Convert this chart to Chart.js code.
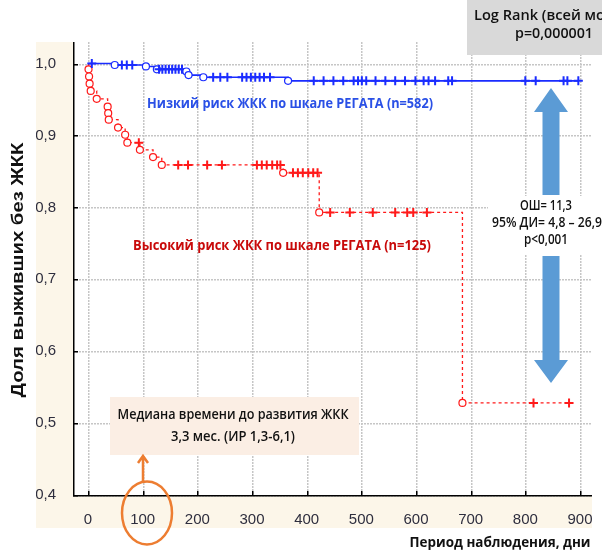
<!DOCTYPE html>
<html>
<head>
<meta charset="utf-8">
<script src="https://cdn.jsdelivr.net/npm/chart.js@4/dist/chart.umd.min.js"></script>
<style>
  body { margin: 0; background: #fff; }
</style>
</head>
<body>
<canvas id="km" width="602" height="550"></canvas>
<script>
// low risk group (n=582): day, survival, mark ('o' = event, '+' = censored)
const lowRiskDays = [0, 7, 49, 62, 71, 81, 106, 126,
  130, 136, 142, 148, 154, 160, 166, 172,
  180, 184, 211,
  229, 242, 255, 282, 290, 298, 306, 314, 322, 333,
  366,
  413, 431, 449, 467, 486, 494, 501, 509, 526, 544, 562, 580, 599, 614, 623, 635, 659, 666,
  800, 819, 870, 877, 897];
const lowRiskSurv = [1, 1, 0.998, 0.998, 0.998, 0.998, 0.996, 0.992,
  0.992, 0.992, 0.992, 0.992, 0.992, 0.992, 0.992, 0.992,
  0.989, 0.984, 0.981,
  0.981, 0.981, 0.981, 0.981, 0.981, 0.981, 0.981, 0.981, 0.981, 0.981,
  0.976,
  0.976, 0.976, 0.976, 0.976, 0.976, 0.976, 0.976, 0.976, 0.976, 0.976, 0.976, 0.976, 0.976, 0.976, 0.976, 0.976, 0.976, 0.976,
  0.976, 0.976, 0.976, 0.976, 0.976];
const lowRiskMark = ["", "+", "o", "+", "+", "+", "o", "o",
  "+", "+", "+", "+", "+", "+", "+", "+",
  "o", "o", "o",
  "+", "+", "+", "+", "+", "+", "+", "+", "+", "+",
  "o",
  "+", "+", "+", "+", "+", "+", "+", "+", "+", "+", "+", "+", "+", "+", "+", "+", "+", "+",
  "+", "+", "+", "+", "+"];

// high risk group (n=125)
const highRiskDays = [0, 1, 2, 3, 5, 16, 36, 37, 38, 55, 68, 72, 93, 95, 119, 135,
  165, 183, 218, 245, 309, 318, 327, 337, 346, 352,
  357, 375, 384, 393, 403, 412, 420,
  423, 443, 479, 521, 562, 584, 595, 620,
  685, 815, 880];
const highRiskSurv = [1, 0.992, 0.982, 0.972, 0.962, 0.951, 0.940, 0.931, 0.922, 0.911, 0.901, 0.890, 0.890, 0.880, 0.870, 0.859,
  0.859, 0.859, 0.859, 0.859, 0.859, 0.859, 0.859, 0.859, 0.859, 0.859,
  0.848, 0.848, 0.848, 0.848, 0.848, 0.848, 0.848,
  0.793, 0.793, 0.793, 0.793, 0.793, 0.793, 0.793, 0.793,
  0.528, 0.528, 0.528];
const highRiskMark = ["", "o", "o", "o", "o", "o", "o", "o", "o", "o", "o", "o", "+", "o", "o", "o",
  "+", "+", "+", "+", "+", "+", "+", "+", "+", "+",
  "o", "+", "+", "+", "+", "+", "+",
  "o", "+", "+", "+", "+", "+", "+", "+",
  "o", "+", "+"];

const xTicks = [0, 100, 200, 300, 400, 500, 600, 700, 800, 900];
const yTicks = [0.4, 0.5, 0.6, 0.7, 0.8, 0.9, 1.0];
const X_MIN = -27.4, X_MAX = 922, Y_MIN = 0.4, Y_MAX = 1.03;

const narrow = '"Open Sans", "DejaVu Sans Condensed", sans-serif';

function kmDataset(days, surv, marks, color, dash) {
  return {
    data: days.map((d, i) => ({ x: d, y: surv[i] })),
    stepped: true,
    borderColor: color,
    borderWidth: dash ? 1.3 : 1.6,
    borderDash: dash || [],
    pointStyle: marks.map(m => m === "o" ? "circle" : "cross"),
    pointRadius: marks.map(m => m === "o" ? 3.5 : (m === "+" ? 4.5 : 0)),
    pointBorderWidth: marks.map(m => m === "o" ? 1.2 : 2),
    pointBorderColor: color,
    pointBackgroundColor: "#fff",
    fill: false
  };
}

// pixel of a value on an axis, falls back to chart area math
function xPix(chart, v) {
  const p = chart.scales.x.getPixelForValue(v);
  if (isFinite(p)) return p;
  const a = chart.chartArea;
  return a.left + (v - X_MIN) / (X_MAX - X_MIN) * (a.right - a.left);
}
function yPix(chart, v) {
  const p = chart.scales.y.getPixelForValue(v);
  if (isFinite(p)) return p;
  const a = chart.chartArea;
  return a.bottom - (v - Y_MIN) / (Y_MAX - Y_MIN) * (a.bottom - a.top);
}

// text, optionally squeezed to a given width
function txt(ctx, s, x, y, font, color, align, w) {
  ctx.save();
  ctx.font = font;
  ctx.fillStyle = color;
  ctx.textBaseline = "middle";
  ctx.textAlign = align;
  const m = ctx.measureText(s).width;
  ctx.translate(x, y);
  if (w) ctx.scale(w / m, 1);
  ctx.fillText(s, 0, 0);
  ctx.restore();
}

function blockArrow(ctx, cx, tipY, baseY, endY) {
  ctx.beginPath();
  ctx.moveTo(cx, tipY);
  ctx.lineTo(cx + 17, baseY);
  ctx.lineTo(cx + 8.5, baseY);
  ctx.lineTo(cx + 8.5, endY);
  ctx.lineTo(cx - 8.5, endY);
  ctx.lineTo(cx - 8.5, baseY);
  ctx.lineTo(cx - 17, baseY);
  ctx.closePath();
  ctx.fillStyle = "#5b9bd5";
  ctx.fill();
}

const decor = {
  id: "decor",
  beforeDraw(chart) {
    const ctx = chart.ctx, a = chart.chartArea;
    ctx.save();
    ctx.fillStyle = "#fff";
    ctx.fillRect(0, 0, chart.width, chart.height);
    ctx.fillStyle = "#fcf6e9";
    ctx.fillRect(36, a.top, a.right - 36, 528 - a.top);
    ctx.fillStyle = "#fff";
    ctx.fillRect(a.left, a.top, a.right - a.left, a.bottom - a.top);
    ctx.restore();
  },
  beforeDatasetsDraw(chart) {
    // dotted light grid
    const ctx = chart.ctx, a = chart.chartArea;
    ctx.save();
    ctx.fillStyle = "#c6c6c6";
    xTicks.forEach(v => {
      const px = Math.round(xPix(chart, v));
      for (let y = a.top; y < a.bottom; y += 3) ctx.fillRect(px, y, 1.5, 2);
    });
    yTicks.forEach(v => {
      const py = Math.round(yPix(chart, v));
      for (let x = a.left; x < a.right; x += 3) ctx.fillRect(x, py, 2, 1.5);
    });
    ctx.restore();
  },
  afterDraw(chart) {
    const ctx = chart.ctx, a = chart.chartArea;
    ctx.save();
    // axes and inner tick marks
    ctx.fillStyle = "#000";
    ctx.fillRect(Math.round(a.left), Math.round(a.top), 1.5, Math.round(a.bottom - a.top) + 1);
    ctx.fillRect(Math.round(a.left), Math.round(a.bottom), Math.round(a.right - a.left), 1.5);
    xTicks.forEach(v => {
      ctx.fillRect(Math.round(xPix(chart, v)), Math.round(a.bottom) - 4, 1.5, 4);
    });
    yTicks.forEach(v => {
      ctx.fillRect(Math.round(a.left), Math.round(yPix(chart, v)), 5, 1.5);
    });

    // group labels
    txt(ctx, "Низкий риск ЖКК по шкале РЕГАТА (n=582)", 290, 104, "bold 15px " + narrow, "#2a50e6", "center", 286);
    txt(ctx, "Высокий риск ЖКК по шкале РЕГАТА (n=125)", 282, 246, "bold 15px " + narrow, "#c80a0a", "center", 298);

    // odds ratio arrows and text
    blockArrow(ctx, 551, 88, 112, 195);
    blockArrow(ctx, 551, 383, 360, 256);
    ctx.fillStyle = "#fff";
    ctx.fillRect(488, 196, 114, 59);
    txt(ctx, "ОШ= 11,3", 546, 206, "600 14px " + narrow, "#111", "center", 52);
    txt(ctx, "95% ДИ= 4,8 – 26,9", 547, 223, "600 14px " + narrow, "#111", "center", 110);
    txt(ctx, "p<0,001", 546, 240, "600 14px " + narrow, "#111", "center", 44);

    // log rank box
    ctx.fillStyle = "#d9d9d9";
    ctx.fillRect(467, 0, 135, 55);
    txt(ctx, "Log Rank (всей мод", 474, 16, "600 15px " + narrow, "#111", "left", 140);
    txt(ctx, "p=0,000001", 554, 34, "600 15px " + narrow, "#111", "center", 78);

    // median box
    ctx.fillStyle = "#fbeee4";
    ctx.fillRect(110, 397, 249, 58);
    txt(ctx, "Медиана времени до развития ЖКК", 233, 415, "600 14px " + narrow, "#111", "center", 231);
    txt(ctx, "3,3 мес. (ИР 1,3-6,1)", 233, 437, "600 14px " + narrow, "#111", "center", 124);

    // orange circle around 100 and arrow
    ctx.strokeStyle = "#ed7d31";
    ctx.lineWidth = 2.5;
    ctx.beginPath();
    ctx.ellipse(147, 513, 25, 31.5, 0, 0, Math.PI * 2);
    ctx.stroke();
    ctx.beginPath();
    ctx.moveTo(143, 481); ctx.lineTo(143, 456);
    ctx.moveTo(138, 463); ctx.lineTo(143, 456); ctx.lineTo(148, 463);
    ctx.stroke();

    // axis titles
    txt(ctx, "Период наблюдения, дни", 500, 543, "bold 15px " + narrow, "#111", "center", 181);
    ctx.save();
    ctx.translate(18, 270);
    ctx.rotate(-Math.PI / 2);
    txt(ctx, "Доля выживших без ЖКК", 0, 0, 'bold 17px "Liberation Sans", Arial, sans-serif', "#111", "center", 255);
    ctx.restore();
    ctx.restore();
  }
};

const ctx = document.getElementById("km").getContext("2d");
new Chart(ctx, {
  type: "line",
  data: {
    datasets: [
      kmDataset(lowRiskDays, lowRiskSurv, lowRiskMark, "#1a2cff", null),
      kmDataset(highRiskDays, highRiskSurv, highRiskMark, "#ff1a1a", [3, 3])
    ]
  },
  options: {
    responsive: false,
    animation: false,
    devicePixelRatio: 1,
    layout: { padding: { left: 36, right: 10, top: 42, bottom: 20 } },
    plugins: { legend: { display: false }, tooltip: { enabled: false } },
    scales: {
      x: {
        type: "linear",
        min: X_MIN,
        max: X_MAX,
        afterFit: s => { s.height = 35; },
        afterBuildTicks: s => { s.ticks = xTicks.map(v => ({ value: v })); },
        ticks: {
          padding: 8,
          color: "#2e2e3e",
          font: { family: '"Liberation Sans", Arial, sans-serif', size: 15 }
        },
        grid: { display: false },
        border: { display: false }
      },
      y: {
        type: "linear",
        min: Y_MIN,
        max: Y_MAX,
        afterFit: s => { s.width = 37; },
        afterBuildTicks: s => { s.ticks = yTicks.map(v => ({ value: v })); },
        ticks: {
          padding: 9,
          color: "#2e2e3e",
          font: { family: '"Liberation Sans", Arial, sans-serif', size: 15 },
          callback: v => v.toFixed(1).replace(".", ",")
        },
        grid: { display: false },
        border: { display: false }
      }
    }
  },
  plugins: [decor]
});
</script>
</body>
</html>
